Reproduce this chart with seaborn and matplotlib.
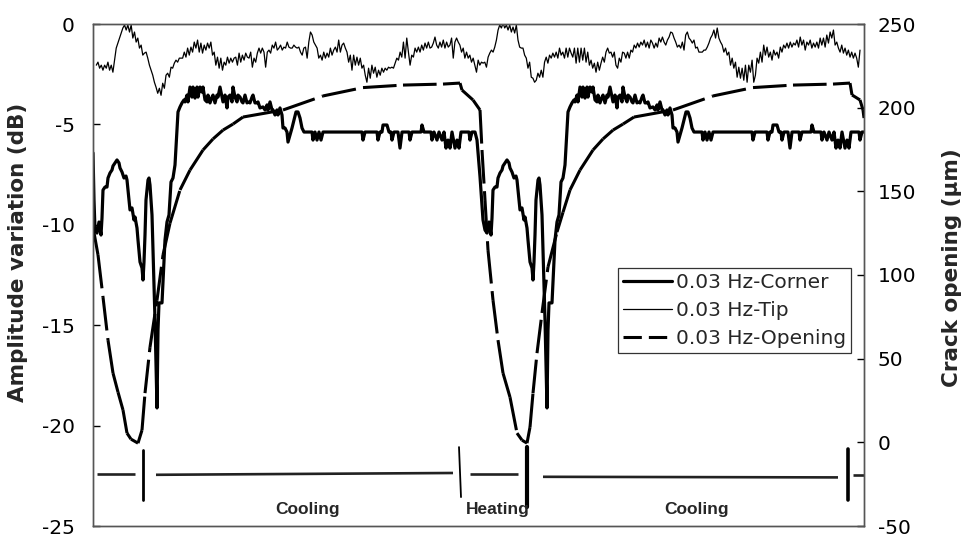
import matplotlib
matplotlib.use("Agg")
import matplotlib.pyplot as plt
import seaborn as sns
import pandas as pd
from matplotlib.lines import Line2D

sns.set_style("ticks")
plt.rcParams["font.family"] = ["DejaVu Sans"]
plt.rcParams["axes.unicode_minus"] = False

# ── DATA (time axis in samples, amplitude in dB, opening in µm) ─────────────
# 0.03 Hz-Corner, first cycle
corner_t_1 = [0, 1, 2, 4, 6, 8, 9, 10, 12, 14, 15, 17, 19, 20, 22, 24, 26, 27, 29, 31,
              33, 34, 36, 37, 39, 41, 42, 44, 45, 47, 49, 50, 51, 52, 53, 55, 56, 57, 59, 60,
              62, 64, 65, 66, 69, 71, 72, 74, 76, 78, 80, 82, 84, 85, 87, 89, 91, 92, 94, 95,
              97, 99, 100, 102, 104, 105, 107, 109, 110, 112, 114, 115, 117, 119, 120, 122, 124, 125, 127, 129,
              130, 132, 134, 135, 137, 139, 140, 142, 144, 145, 147, 149, 150, 152, 154, 155, 157, 159, 160, 162,
              164, 165, 167, 170, 172, 174, 175, 177, 179, 180, 182, 184, 185, 187, 189, 190, 192, 194, 195, 197,
              199, 201, 203, 205, 207, 209, 211, 219, 220, 222, 224, 226, 228, 230, 269, 270, 272, 284, 285, 287,
              289, 290, 294, 296, 298, 299, 301, 305, 307, 309, 316, 317, 319, 328, 329, 331, 338, 339, 341, 344,
              346, 349, 351, 353, 355, 357, 359, 362, 364, 366, 368, 376, 377, 379, 382]
corner_db_1 = [-6.42, -8.76, -10.26, -10.41, -9.86, -10.51, -9.66, -8.27, -8.12, -8.12, -7.67, -7.42, -7.27, -7.07, -6.92, -6.77, -6.92, -7.17, -7.37, -7.67,
               -7.57, -7.77, -8.76, -9.26, -9.16, -9.76, -9.61, -10.16, -10.76, -11.85, -12.15, -12.75, -11.85, -10.51, -8.76, -7.77, -7.67, -8.02, -9.51, -11.25,
               -14.74, -19.12, -15.24, -13.89, -13.89, -11.75, -10.76, -9.86, -9.51, -7.87, -7.67, -7.02, -5.28, -4.38, -4.13, -3.93, -3.78, -3.88, -3.54, -3.88,
               -3.14, -3.64, -3.14, -3.69, -3.14, -3.64, -3.14, -3.39, -3.14, -3.78, -3.88, -3.54, -3.93, -3.64, -3.54, -3.93, -3.54, -3.64, -3.14, -3.64,
               -3.88, -3.54, -4.18, -3.64, -3.54, -3.88, -3.14, -3.64, -3.88, -3.54, -3.64, -3.88, -3.93, -3.54, -3.93, -3.88, -3.93, -3.64, -3.54, -3.93,
               -3.93, -3.88, -4.18, -4.13, -4.28, -4.03, -4.28, -3.88, -4.28, -4.28, -4.53, -4.28, -4.53, -4.18, -4.53, -5.18, -5.18, -5.38, -5.88, -5.53,
               -5.18, -4.78, -4.38, -4.38, -4.68, -5.18, -5.38, -5.38, -5.78, -5.38, -5.78, -5.38, -5.78, -5.38, -5.38, -5.78, -5.38, -5.38, -5.78, -5.38,
               -5.38, -5.03, -5.03, -5.38, -5.38, -5.78, -5.38, -5.38, -6.18, -5.38, -5.38, -5.78, -5.38, -5.38, -5.03, -5.38, -5.38, -5.78, -5.38, -5.78,
               -5.38, -5.78, -5.38, -6.18, -5.78, -6.18, -5.38, -6.18, -5.78, -6.18, -5.38, -5.38, -5.78, -5.38, -5.38]

# 0.03 Hz-Corner, second cycle
corner_t_2 = [384, 387, 390, 392, 394, 396, 398, 399, 400, 402, 404, 405, 407, 409, 410, 412, 414, 416, 417, 419,
              421, 423, 424, 426, 427, 429, 431, 432, 434, 435, 437, 439, 440, 441, 442, 443, 445, 446, 447, 449,
              450, 452, 454, 455, 456, 459, 461, 462, 464, 466, 468, 470, 472, 474, 475, 477, 479, 481, 482, 484,
              485, 487, 489, 490, 492, 494, 495, 497, 499, 500, 502, 504, 505, 507, 509, 510, 512, 514, 515, 517,
              519, 520, 522, 524, 525, 527, 529, 530, 532, 534, 535, 537, 539, 540, 542, 544, 545, 547, 549, 550,
              552, 554, 555, 557, 560, 562, 564, 565, 567, 569, 570, 572, 574, 575, 577, 579, 580, 582, 584, 585,
              587, 589, 591, 593, 595, 597, 599, 601, 609, 610, 612, 614, 616, 618, 620, 659, 660, 662, 674, 675,
              677, 679, 680, 684, 686, 688, 689, 691, 695, 697, 699, 706, 707, 709, 718, 719, 721, 728, 729, 731,
              734, 736, 739, 741, 743, 745, 747, 749, 752, 754, 756, 758, 766, 767, 769, 772]
corner_db_2 = [-5.78, -7.60, -9.76, -10.26, -10.41, -9.86, -10.51, -9.66, -8.27, -8.12, -8.12, -7.67, -7.42, -7.27, -7.07, -6.92, -6.77, -6.92, -7.17, -7.37,
               -7.67, -7.57, -7.77, -8.76, -9.26, -9.16, -9.76, -9.61, -10.16, -10.76, -11.85, -12.15, -12.75, -11.85, -10.51, -8.76, -7.77, -7.67, -8.02, -9.51,
               -11.25, -14.74, -19.12, -15.24, -13.89, -13.89, -11.75, -10.76, -9.86, -9.51, -7.87, -7.67, -7.02, -5.28, -4.38, -4.13, -3.93, -3.78, -3.88, -3.54,
               -3.88, -3.14, -3.64, -3.14, -3.69, -3.14, -3.64, -3.14, -3.39, -3.14, -3.78, -3.88, -3.54, -3.93, -3.64, -3.54, -3.93, -3.54, -3.64, -3.14,
               -3.64, -3.88, -3.54, -4.18, -3.64, -3.54, -3.88, -3.14, -3.64, -3.88, -3.54, -3.64, -3.88, -3.93, -3.54, -3.93, -3.88, -3.93, -3.64, -3.54,
               -3.93, -3.93, -3.88, -4.18, -4.13, -4.28, -4.03, -4.28, -3.88, -4.28, -4.28, -4.53, -4.28, -4.53, -4.18, -4.53, -5.18, -5.18, -5.38, -5.88,
               -5.53, -5.18, -4.78, -4.38, -4.38, -4.68, -5.18, -5.38, -5.38, -5.78, -5.38, -5.78, -5.38, -5.78, -5.38, -5.38, -5.78, -5.38, -5.38, -5.78,
               -5.38, -5.38, -5.03, -5.03, -5.38, -5.38, -5.78, -5.38, -5.38, -6.18, -5.38, -5.38, -5.78, -5.38, -5.38, -5.03, -5.38, -5.38, -5.78, -5.38,
               -5.78, -5.38, -5.78, -5.38, -6.18, -5.78, -6.18, -5.38, -6.18, -5.78, -6.18, -5.38, -5.38, -5.78, -5.38, -5.38]

# 0.03 Hz-Tip, evenly sampled from t=3.3 to t=767
tip_t_start, tip_t_end = 3.3, 767.0
tip_db = [
    -2.05, -1.9, -2.2, -2.05, -2.3, -2.05, -2.2, -1.9, -2.3, -2.05,
    -2.4, -1.8, -1.2, -0.95, -0.7, -0.45, -0.2, -0.05, -0.3, -0.05,
    -0.4, -0.05, -0.7, -0.4, -0.9, -0.7, -1.2, -1.05, -1.55, -1.45,
    -1.4, -1.7, -2.05, -2.3, -2.55, -2.9, -3.15, -3.45, -3.2, -3.55,
    -2.95, -3.2, -2.55, -2.45, -2.65, -2.15, -2.2, -1.95, -1.8, -1.9,
    -1.7, -1.7, -1.7, -1.4, -1.65, -1.2, -1.55, -1.15, -1.4, -0.9,
    -1.2, -0.8, -1.4, -0.95, -1.45, -1.05, -1.3, -0.95, -1.2, -0.9,
    -1.55, -1.4, -2.05, -1.65, -2.2, -1.7, -2.3, -1.9, -2.05, -1.65,
    -1.95, -1.7, -1.9, -1.7, -1.65, -2.05, -1.45, -1.9, -1.55, -1.8,
    -1.45, -1.65, -1.7, -1.4, -2.15, -1.7, -1.9, -1.45, -1.2, -1.45,
    -1.2, -1.4, -2.15, -1.4, -1.3, -1.45, -1.05, -1.2, -0.9, -1.3,
    -1.2, -1.05, -1.3, -1.15, -1.2, -0.9, -1.15, -1.2,
    -1.2, -1.05, -1.15, -1.2, -1.15, -1.4, -1.55, -1.2, -1.15, -1.7,
    -0.9, -0.4, -0.55, -0.9, -1.05, -1.2, -1.7, -1.55, -1.8, -1.4,
    -1.7, -1.45, -1.65, -1.2, -1.55, -1.3, -1.15, -1.4, -0.8, -1.4,
    -1.05, -0.95, -1.2, -1.4, -1.9, -1.55, -2.3, -1.55, -2.05, -1.65,
    -2.05, -1.7, -2.2, -2.05, -2.55, -2.9, -2.2, -2.7, -2.05, -2.45,
    -2.15, -2.65, -2.3, -2.55, -2.2, -2.4, -2.2, -2.3, -2.15, -2.2,
    -2.15, -2.2, -1.95, -1.7, -1.8, -1.4, -1.65, -0.9, -1.7, -0.7,
    -1.4, -2.05, -1.55, -1.65, -1.2, -1.4, -1.15, -1.4, -1.05, -1.3,
    -0.95, -1.2, -0.9, -1.2, -1.15, -0.95, -0.65, -1.05, -1.2, -0.9,
    -1.15, -0.8, -1.2, -0.9, -1.15, -1.05, -0.7, -1.7, -0.9, -0.7,
    -0.9, -1.05, -1.4, -1.2, -1.7, -1.4, -1.7, -1.55, -1.9, -1.7,
    -2.05, -2.4, -1.8, -2.05, -1.9, -1.95, -1.9,
    -2.15, -1.65, -1.45, -1.3, -1.4, -1.15, -0.8, -0.3, -0.05, -0.2,
    0.05, -0.2, -0.05, -0.3, -0.05, -0.4, -0.15, -0.45, -0.05, -0.8,
    -1.15, -1.2, -1.2, -1.55, -1.7, -2.2, -1.9, -2.65, -2.7, -2.9,
    -2.8, -2.45, -2.65, -2.3, -2.65, -1.9, -1.65, -1.95, -1.55, -1.7,
    -1.45, -1.65, -1.4, -1.7, -1.2, -1.55, -1.4, -1.7, -1.2, -1.65,
    -1.2, -1.45, -1.65, -1.2, -1.95, -1.2, -1.9, -1.2, -1.8, -1.2,
    -1.9, -1.4, -2.05, -1.8, -2.2, -1.95, -2.4, -1.9, -2.3, -1.95,
    -1.65, -1.9, -1.4, -1.2, -1.45, -1.4, -1.65, -1.4, -2.05, -2.2,
    -1.7, -1.9, -1.4, -1.45, -1.7, -1.4, -1.7, -1.3, -1.4, -1.05,
    -1.2, -0.95, -1.15, -0.9, -1.05, -0.8, -1.15, -0.9, -1.2, -0.8,
    -0.95, -1.2, -0.95, -1.15, -0.7, -0.9, -0.65, -0.9, -1.05, -0.8,
    -0.65, -0.4, -0.45, -0.7, -0.9, -1.15, -1.05,
    -1.2, -0.9, -1.3, -0.55, -0.4, -0.7, -0.8, -0.95, -0.8, -1.2,
    -1.15, -1.4, -1.4, -1.4, -1.3, -1.3, -1.15, -0.95, -0.7, -0.55,
    -0.3, -0.7, -0.2, -0.7, -0.9, -1.05, -1.4, -1.2, -1.55, -1.4,
    -2.05, -1.7, -2.2, -1.9, -2.65, -2.15, -2.7, -2.2, -2.8, -2.05,
    -2.9, -2.05, -2.4, -1.8, -2.9, -2.55, -1.7, -1.95, -1.4, -1.9,
    -1.05, -1.55, -1.15, -1.65, -1.4, -1.8, -1.3, -1.55, -1.4, -1.7,
    -1.15, -1.4, -1.05, -1.2, -0.95, -1.2, -0.9, -1.15, -0.95, -1.05,
    -0.8, -1.15, -0.65, -1.05, -0.8, -1.3, -0.9, -1.05, -0.8, -1.2,
    -0.95, -1.15, -0.9, -1.2, -0.7, -1.05, -0.7, -1.15, -0.55, -0.95,
    -0.4, -0.7, -0.3, -1.05, -0.9, -1.2, -1.4, -1.05, -1.45, -1.2,
    -1.55, -1.3, -1.65, -1.4, -1.7, -1.45, -1.7, -2.15, -1.3,
]

# 0.03 Hz-Opening (crack opening, µm)
opening_t = [0, 5, 10, 15, 20, 25, 30, 34, 38, 45, 49, 52, 57, 64, 70, 77, 87, 97, 110, 120,
             130, 140, 150, 190, 230, 270, 310, 350, 367, 369, 380, 387, 389, 392, 395, 400, 405, 410, 417, 424,
             429, 434, 437, 440, 444, 449, 455, 464, 470, 477, 487, 500, 510, 520, 530, 541, 580, 620, 660, 700,
             740, 757, 759, 767, 770, 771]
opening_um = [128.7, 112.0, 86.8, 61.1, 41.4, 30.0, 19.3, 5.5, 1.9, -0.5, 7.3, 29.4, 56.9, 85.0, 111.9, 131.0, 150.8, 162.7, 174.7, 181.3,
              186.6, 190.2, 194.4, 198.6, 207.0, 212.0, 213.5, 214.1, 214.7, 210.5, 204.6, 198.6, 174.7, 144.8, 114.9, 85.0, 61.1, 41.4, 27.0, 5.5,
              1.3, -0.5, 9.1, 29.4, 53.3, 77.3, 104.8, 125.7, 137.5, 150.8, 162.7, 174.7, 181.3, 186.6, 190.2, 194.4, 198.6, 207.0, 212.0, 213.5,
              214.1, 214.7, 207.6, 204.6, 198.6, 193.8]

# thermal phases drawn along the bottom (dB level of the bar)
phase_bounds = [50, 367, 434, 755]
phase_segments = [(4, 42, -22.42, -22.42), (63, 360, -22.45, -22.36), (377, 425, -22.42, -22.42),
                  (450, 745, -22.55, -22.58), (760, 771, -22.45, -22.45)]
phase_names = ["Cooling", "Heating", "Cooling"]
phase_label_t = [215, 405, 604]

series_labels = ["0.03 Hz-Corner", "0.03 Hz-Tip", "0.03 Hz-Opening"]

corner = pd.DataFrame({"t": corner_t_1 + corner_t_2, "db": corner_db_1 + corner_db_2})
tip_step = (tip_t_end - tip_t_start) / (len(tip_db) - 1)
tip = pd.DataFrame({"t": [tip_t_start + i * tip_step for i in range(len(tip_db))], "db": tip_db})
opening = pd.DataFrame({"t": opening_t, "um": opening_um})

# ── FIGURE ──────────────────────────────────────────────────────────────────
fig = plt.figure(figsize=(9.66, 5.38), dpi=100)
ax = fig.add_axes([93 / 966, 12 / 538, 771 / 966, 502 / 538])
ax2 = ax.twinx()

sns.lineplot(data=tip, x="t", y="db", ax=ax, color="black", lw=0.9,
             estimator=None, sort=False)
sns.lineplot(data=corner, x="t", y="db", ax=ax, color="black", lw=2.3,
             estimator=None, sort=False)
# dash pattern restarts at every sample, like the spreadsheet original
for i in range(len(opening) - 1):
    sns.lineplot(data=opening.iloc[i:i + 2], x="t", y="um", ax=ax2,
                 color="black", lw=2.2, estimator=None, sort=False)
    ax2.lines[-1].set_dashes([11, 2.5])

# phase bar
for t0, t1, y0, y1 in phase_segments:
    ax.plot([t0, t1], [y0, y1], color="#222222", lw=1.9, solid_capstyle="butt")
ax.plot([phase_bounds[0]] * 2, [-21.2, -23.7], color="black", lw=2.0)
ax.plot([phase_bounds[1] - 1, phase_bounds[1] + 1], [-21.07, -23.56], color="black", lw=1.3)
ax.plot([phase_bounds[2]] * 2, [-21.07, -24.05], color="black", lw=3.0)
ax.plot([phase_bounds[3]] * 2, [-21.17, -23.71], color="black", lw=2.6)
for name, tx in zip(phase_names, phase_label_t):
    ax.text(tx, -24.2, name, ha="center", va="center", fontsize=12.5,
            fontweight="bold", family="Liberation Sans")

# axes
ax.set_xlim(0, 771)
ax.set_ylim(-25, 0)
ax2.set_ylim(-50, 250)
ax.set_xticks([])
ax.set_yticks([-25, -20, -15, -10, -5, 0])
ax2.set_yticks([-50, 0, 50, 100, 150, 200, 250])
ax.set_xlabel("")
ax.tick_params(axis="y", direction="in", length=5, width=1, labelsize=14.5,
               pad=13, colors="black")
ax2.tick_params(axis="y", direction="in", length=5, width=1, labelsize=14.5,
                pad=10, colors="black")
for a in (ax, ax2):
    for s in a.spines.values():
        s.set_color("#555555")
        s.set_linewidth(1.0)

ax.set_ylabel("Amplitude variation (dB)", fontsize=15.5, fontweight="bold")
ax2.set_ylabel("Crack opening (µm)", fontsize=15.5, fontweight="bold", rotation=90)
ax.yaxis.set_label_coords(-0.0843, 0.546)
ax2.yaxis.set_label_coords(1.101, 0.515)

handles = [Line2D([], [], color="black", lw=2.3),
           Line2D([], [], color="black", lw=0.9),
           Line2D([], [], color="black", lw=2.2, dashes=(6, 2.3))]
leg = ax2.legend(handles, series_labels, loc="upper right",
                 bbox_to_anchor=(0.983, 0.514), fontsize=14.5, frameon=True,
                 fancybox=False, framealpha=1, edgecolor="#333333",
                 handlelength=2.4, handletextpad=0.2, borderpad=0.25,
                 labelspacing=0.45, borderaxespad=0)
leg.get_frame().set_linewidth(0.9)

fig.savefig("out.png", dpi=100)
